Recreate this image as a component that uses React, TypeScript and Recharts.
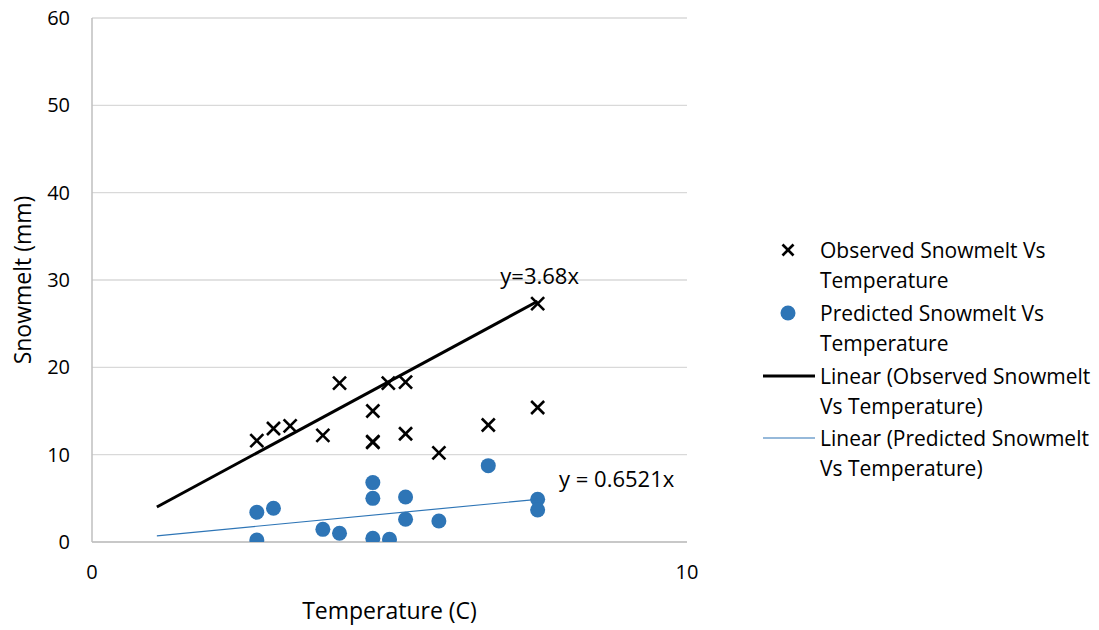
import React from "react";
import {
  ScatterChart,
  Scatter,
  XAxis,
  YAxis,
  CartesianGrid,
  Legend,
  ReferenceDot,
  Label,
} from "recharts";

// ---- data ----
const observedX = [2.77, 3.05, 3.33, 3.88, 4.16, 4.72, 4.72, 4.72, 4.98, 5.27, 5.27, 5.83, 6.66, 7.49, 7.49];
const observedY = [11.6, 13.0, 13.3, 12.2, 18.2, 15.0, 11.5, 11.4, 18.2, 18.3, 12.4, 10.2, 13.4, 15.4, 27.3];
const predictedX = [2.77, 2.77, 3.05, 3.88, 4.16, 4.72, 4.72, 4.72, 5.0, 5.27, 5.27, 5.83, 6.66, 7.49, 7.49];
const predictedY = [3.4, 0.23, 3.86, 1.45, 1.0, 6.8, 5.0, 0.42, 0.31, 5.15, 2.6, 2.4, 8.74, 4.89, 3.67];

const trendX = [1.09, 7.49];
const observedSlope = 3.68;
const predictedSlope = 0.6521;
const observedEq = "y=3.68x";
const predictedEq = "y = 0.6521x";

const xTicks = [0, 10];
const yTicks = [0, 10, 20, 30, 40, 50, 60];

const legendLines = [
  ["Observed Snowmelt Vs", "Temperature"],
  ["Predicted Snowmelt Vs", "Temperature"],
  ["Linear (Observed Snowmelt", "Vs Temperature)"],
  ["Linear (Predicted Snowmelt", "Vs Temperature)"],
];

// ---- derived tables ----
const observed = observedX.map((x, i) => ({ x, y: observedY[i] }));
const predicted = predictedX.map((x, i) => ({ x, y: predictedY[i] }));
const observedTrend = trendX.map((x) => ({ x, y: observedSlope * x }));
const predictedTrend = trendX.map((x) => ({ x, y: predictedSlope * x }));

const FONT = "'Open Sans', sans-serif";
const TICK_FS = 20;
const TITLE_FS = 23;
const EQ_FS = 22;
const LEGEND_FS = 21;
const BLUE = "#2e75b6";

const CrossShape = (props: any) => {
  const { cx, cy } = props;
  const h = 6.5;
  return (
    <g stroke="#000" strokeWidth={2.6}>
      <line x1={cx - h} y1={cy - h} x2={cx + h} y2={cy + h} />
      <line x1={cx - h} y1={cy + h} x2={cx + h} y2={cy - h} />
    </g>
  );
};

const DotShape = (props: any) => {
  const { cx, cy } = props;
  return <circle cx={cx} cy={cy} r={7.5} fill={BLUE} />;
};

const NoShape = () => <g />;

const LegendContent = () => {
  const tx = 60;
  const rows = [18, 81, 144, 206];
  const lh = 29.5;
  return (
    <svg width={339} height={260} style={{ display: "block", fontFamily: FONT }}>
      <g stroke="#000" strokeWidth={2.6}>
        <line x1={28 - 5.5} y1={rows[0] - 5.5} x2={28 + 5.5} y2={rows[0] + 5.5} />
        <line x1={28 - 5.5} y1={rows[0] + 5.5} x2={28 + 5.5} y2={rows[0] - 5.5} />
      </g>
      <circle cx={28} cy={rows[1]} r={7.5} fill={BLUE} />
      <line x1={3} x2={55} y1={rows[2]} y2={rows[2]} stroke="#000" strokeWidth={3} />
      <line x1={3} x2={55} y1={rows[3]} y2={rows[3]} stroke={BLUE} strokeWidth={1.2} />
      {legendLines.map((lines, i) =>
        lines.map((t, j) => (
          <text
            key={`${i}-${j}`}
            x={tx}
            y={rows[i] + j * lh}
            dominantBaseline="central"
            fontSize={LEGEND_FS}
            fill="#000"
          >
            {t}
          </text>
        ))
      )}
    </svg>
  );
};

const makeEqLabel = (text: string, dx: number, dy: number) => (props: any) => {
  const vb = props.viewBox || {};
  const cx = (vb.x ?? 0) + (vb.width ?? 0) / 2;
  const cy = (vb.y ?? 0) + (vb.height ?? 0) / 2;
  return (
    <text
      x={cx + dx}
      y={cy + dy}
      textAnchor="middle"
      dominantBaseline="central"
      fontFamily={FONT}
      fontSize={EQ_FS}
      fill="#000"
    >
      {text}
    </text>
  );
};

export default function App() {
  return (
    <div style={{ width: 1099, height: 630 }}>
      <style>{`body{margin:0;}`}</style>
      <ScatterChart
        width={1099}
        height={630}
        margin={{ top: 18, right: 73, bottom: 0, left: 0 }}
        style={{ fontFamily: FONT }}
      >
        <CartesianGrid horizontal vertical={false} stroke="#d9d9d9" strokeWidth={1.3} />
        <XAxis
          type="number"
          dataKey="x"
          domain={[0, 10]}
          ticks={xTicks}
          tickLine={false}
          tickMargin={17}
          axisLine={{ stroke: "#bfbfbf", strokeWidth: 1.5 }}
          tick={{ fill: "#000", fontSize: TICK_FS }}
          height={88}
          allowDataOverflow
        >
          <Label
            content={(p: any) => {
              const vb = p.viewBox;
              return (
                <text
                  x={vb.x + vb.width / 2}
                  y={610}
                  textAnchor="middle"
                  dominantBaseline="central"
                  fontFamily={FONT}
                  fontSize={TITLE_FS}
                  fill="#000"
                >
                  Temperature (C)
                </text>
              );
            }}
          />
        </XAxis>
        <YAxis
          type="number"
          dataKey="y"
          domain={[0, 60]}
          ticks={yTicks}
          tickLine={false}
          tickMargin={16}
          axisLine={{ stroke: "#bfbfbf", strokeWidth: 1.5 }}
          tick={{ fill: "#000", fontSize: TICK_FS }}
          width={92}
          allowDataOverflow
        >
          <Label
            content={(p: any) => {
              const vb = p.viewBox;
              const cy = vb.y + vb.height / 2;
              return (
                <text
                  x={22}
                  y={cy}
                  transform={`rotate(-90 22 ${cy})`}
                  textAnchor="middle"
                  dominantBaseline="central"
                  fontFamily={FONT}
                  fontSize={TITLE_FS}
                  fill="#000"
                >
                  Snowmelt (mm)
                </text>
              );
            }}
          />
        </YAxis>
        <Legend
          layout="vertical"
          align="right"
          verticalAlign="top"
          content={<LegendContent />}
          wrapperStyle={{ left: 760, top: 232, width: 339, height: 260 }}
        />
        <Scatter
          name="Observed Snowmelt Vs Temperature"
          data={observed}
          shape={CrossShape}
          isAnimationActive={false}
        />
        <Scatter
          name="Predicted Snowmelt Vs Temperature"
          data={predicted}
          shape={DotShape}
          isAnimationActive={false}
        />
        <Scatter
          name="Linear (Observed Snowmelt Vs Temperature)"
          data={observedTrend}
          line={{ stroke: "#000", strokeWidth: 3 }}
          shape={NoShape}
          isAnimationActive={false}
        />
        <Scatter
          name="Linear (Predicted Snowmelt Vs Temperature)"
          data={predictedTrend}
          line={{ stroke: BLUE, strokeWidth: 1.2 }}
          shape={NoShape}
          isAnimationActive={false}
        />
        <ReferenceDot
          x={trendX[1]}
          y={observedSlope * trendX[1]}
          r={1}
          fill="none"
          stroke="none"
          label={makeEqLabel(observedEq, 2, -26)}
        />
        <ReferenceDot
          x={trendX[1]}
          y={predictedSlope * trendX[1]}
          r={1}
          fill="none"
          stroke="none"
          label={makeEqLabel(predictedEq, 79, -21)}
        />
      </ScatterChart>
    </div>
  );
}
